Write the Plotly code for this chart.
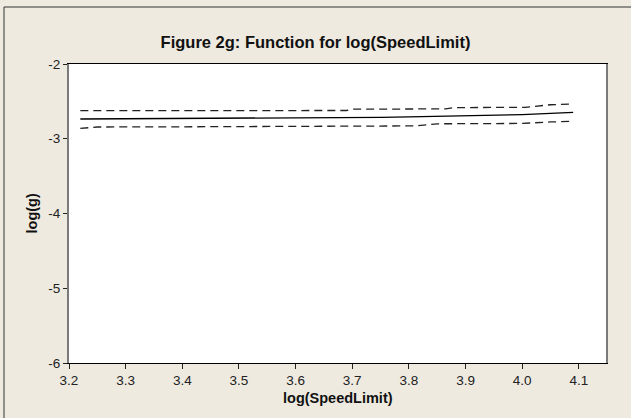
import plotly.graph_objects as go

# Data
x_fit = [3.22, 3.30, 3.40, 3.50, 3.60, 3.70, 3.75, 3.80, 3.85, 3.90, 3.95, 4.00, 4.05, 4.09]
y_fit = [-2.736, -2.734, -2.731, -2.728, -2.724, -2.717, -2.713, -2.708, -2.700, -2.694, -2.686, -2.676, -2.660, -2.646]

x_upper = [3.22, 3.40, 3.60, 3.69, 3.70, 3.80, 3.865, 3.88, 3.95, 4.005, 4.05, 4.09]
y_upper = [-2.625, -2.624, -2.623, -2.622, -2.605, -2.603, -2.600, -2.583, -2.582, -2.580, -2.545, -2.535]

x_lower = [3.22, 3.25, 3.40, 3.60, 3.81, 3.85, 3.90, 4.00, 4.05, 4.09]
y_lower = [-2.862, -2.843, -2.840, -2.835, -2.828, -2.800, -2.798, -2.795, -2.775, -2.767]

x_ticks = [3.2, 3.3, 3.4, 3.5, 3.6, 3.7, 3.8, 3.9, 4.0, 4.1]
x_ticktext = ["3.2", "3.3", "3.4", "3.5", "3.6", "3.7", "3.8", "3.9", "4.0", "4.1"]
y_ticks = [-6, -5, -4, -3, -2]
y_ticktext = ["-6", "-5", "-4", "-3", "-2"]

W, H = 631, 418
L, R, T, B = 69, 25, 64, 55
pw, ph = W - L - R, H - T - B

BG = "#EEEAE0"
FONT = "Liberation Sans, Arial, sans-serif"

fig = go.Figure()
fig.add_trace(go.Scatter(x=x_upper, y=y_upper, mode="lines",
                         line=dict(color="#222222", width=1.3, dash="8px,5px"), showlegend=False))
fig.add_trace(go.Scatter(x=x_lower, y=y_lower, mode="lines",
                         line=dict(color="#222222", width=1.3, dash="8px,5px"), showlegend=False))
fig.add_trace(go.Scatter(x=x_fit, y=y_fit, mode="lines",
                         line=dict(color="#000000", width=1.3), showlegend=False))

fig.update_layout(
    width=W, height=H,
    margin=dict(l=L, r=R, t=T, b=B),
    paper_bgcolor=BG, plot_bgcolor="#FFFFFF",
    font=dict(family=FONT, size=13.5, color="#222222"),
    title=dict(text="<b>Figure 2g: Function for log(SpeedLimit)</b>",
               x=0.5, xref="container", xanchor="center",
               y=1 - 42.5 / H, yanchor="middle",
               font=dict(family=FONT, size=16.5, color="#111111")),
    xaxis=dict(range=[3.2, 4.148], tickvals=x_ticks, ticktext=x_ticktext,
               showgrid=False, zeroline=False,
               showline=True, linecolor="#000000", linewidth=1, mirror=True,
               ticks="outside", ticklen=5, tickcolor="#222222", tickwidth=1,
               tickfont=dict(size=13.5, color="#222222")),
    yaxis=dict(range=[-6, -2], tickvals=y_ticks, ticktext=y_ticktext,
               showgrid=False, zeroline=False,
               showline=True, linecolor="#7A7A7A", linewidth=2, mirror=True,
               ticks="outside", ticklen=4, tickcolor="#222222", tickwidth=1,
               tickfont=dict(size=13.5, color="#222222")),
    annotations=[
        dict(text="<b>log(SpeedLimit)</b>", xref="paper", yref="paper",
             x=0.5, y=(363 - 398) / ph, xanchor="center", yanchor="middle",
             showarrow=False, font=dict(family=FONT, size=14.5, color="#111111")),
        dict(text="<b>log(g)</b>", xref="paper", yref="paper",
             x=(31 - L) / pw, y=0.5, xanchor="center", yanchor="middle",
             textangle=-90, showarrow=False,
             font=dict(family=FONT, size=14.5, color="#111111")),
    ],
    shapes=[
        dict(type="line", xref="paper", yref="paper",
             x0=(4 - L) / pw, x1=(W + 5 - L) / pw,
             y0=(H - B - 7) / ph, y1=(H - B - 7) / ph,
             line=dict(color="#333333", width=1)),
        dict(type="line", xref="paper", yref="paper",
             x0=(4 - L) / pw, x1=(4 - L) / pw,
             y0=(H - B - 7) / ph, y1=-(B + 5) / ph,
             line=dict(color="#333333", width=1)),
    ],
)

fig.write_html("out.html")
